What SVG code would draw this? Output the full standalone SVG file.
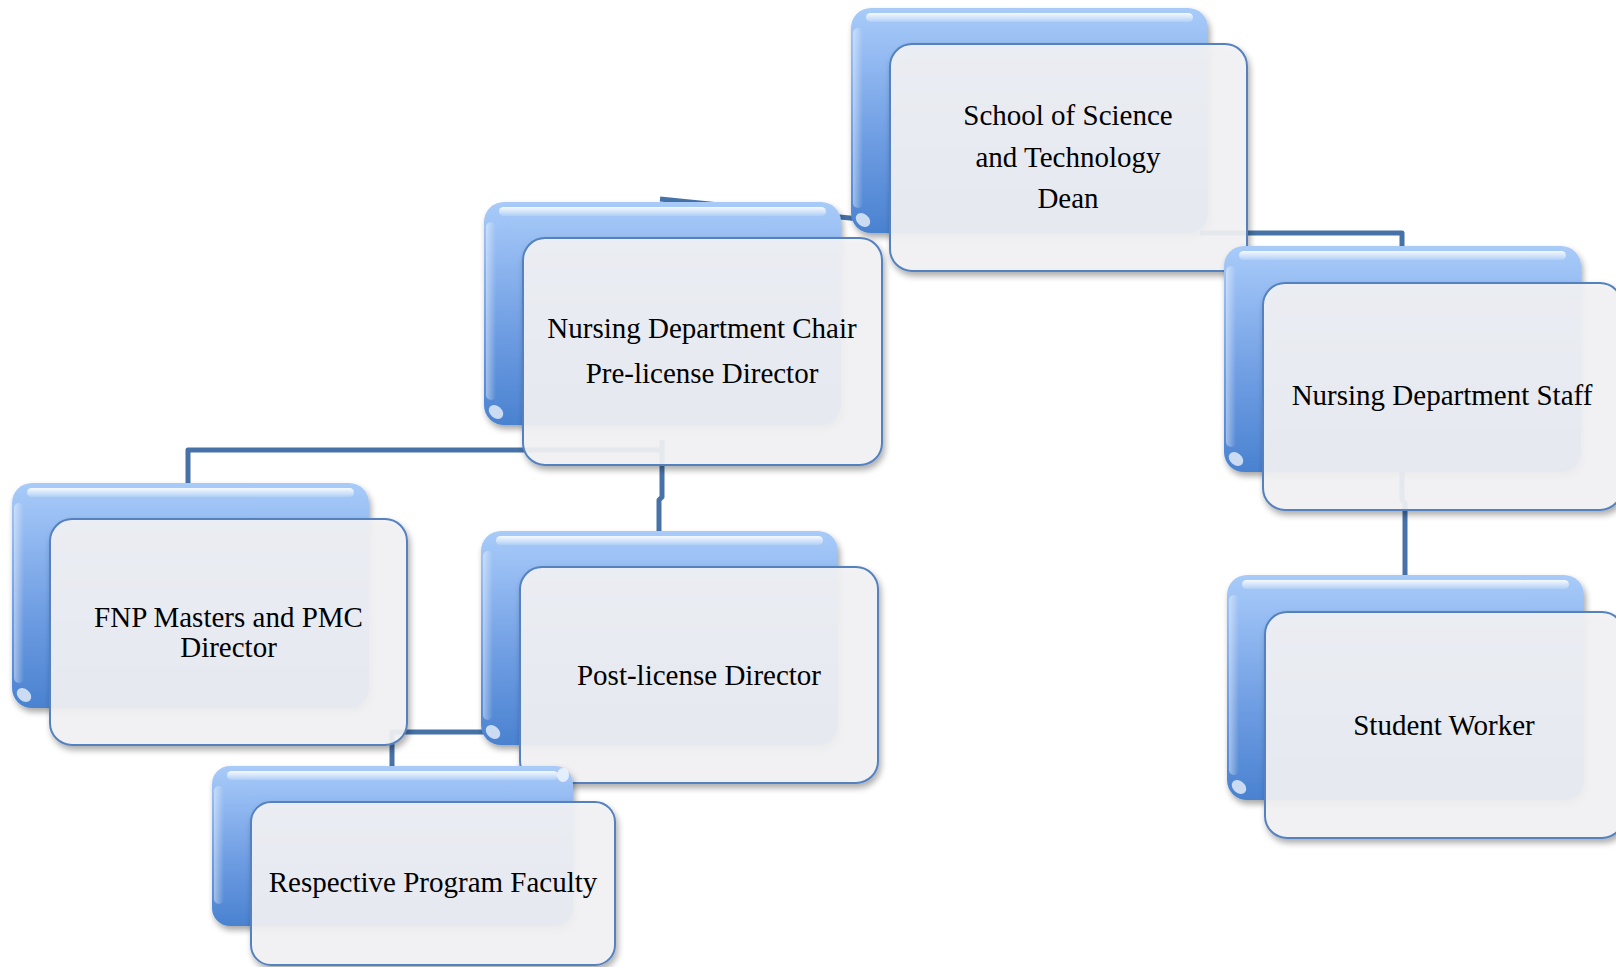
<svg xmlns="http://www.w3.org/2000/svg" width="1616" height="967" viewBox="0 0 1616 967">
<defs>
<linearGradient id="bg" x1="0" y1="0" x2="0" y2="1">
<stop offset="0" stop-color="#a8cbf8"/>
<stop offset="0.18" stop-color="#97bdf3"/>
<stop offset="0.6" stop-color="#6d9ce2"/>
<stop offset="1" stop-color="#4a82d0"/>
</linearGradient>
<linearGradient id="lg" x1="0" y1="0" x2="1" y2="0">
<stop offset="0" stop-color="#ffffff" stop-opacity="0.45"/>
<stop offset="1" stop-color="#ffffff" stop-opacity="0"/>
</linearGradient>
<linearGradient id="tg" x1="0" y1="0" x2="0" y2="1">
<stop offset="0" stop-color="#ffffff" stop-opacity="0.9"/>
<stop offset="1" stop-color="#ffffff" stop-opacity="0.15"/>
</linearGradient>
<filter id="sh" x="-10%" y="-10%" width="125%" height="130%">
<feDropShadow dx="2" dy="4" stdDeviation="3" flood-color="#000" flood-opacity="0.35"/>
</filter>
</defs>
<style>
.back{fill:url(#bg);filter:url(#sh)}
.tophl{fill:url(#tg)}
.lefthl{fill:url(#lg)}
.spot{fill:#ffffff;opacity:0.7}
.front{fill:#f3f3f5;fill-opacity:0.91;stroke:#5582bf;stroke-width:2;filter:url(#sh)}
.conn{fill:none;stroke:#4672a8;stroke-width:5;stroke-linejoin:round}
text{font-family:"Liberation Serif","Times New Roman",serif;font-size:29px;fill:#000;text-anchor:middle}
</style>
<rect width="1616" height="967" fill="#ffffff"/>
<g id="connectors">
<path class="conn" d="M660,199 L900,223"/>
<path class="conn" d="M1200,233 H1402 V252"/>
<path class="conn" d="M660,450 H188 V488"/>
<path class="conn" d="M662,440 V497 L659,500 V535"/>
<path class="conn" d="M660,732 H392 V770"/>
<path class="conn" d="M1402,470 V500 L1405,503 V580"/>
</g>
<g id="dean">
<rect class="back" x="851" y="8" width="357" height="225" rx="20"/>
<rect class="tophl" x="866" y="13" width="327" height="9" rx="4.5"/>
<rect class="lefthl" x="853" y="28" width="10" height="180" rx="5"/>
<ellipse class="spot" cx="863" cy="220" rx="8" ry="6" transform="rotate(40 863 220)"/>
<rect class="front" x="890" y="44" width="357" height="227" rx="22"/>
<text x="1068" y="125">School of Science</text>
<text x="1068" y="166.5">and Technology</text>
<text x="1068" y="208">Dean</text>
</g>
<g id="chair">
<rect class="back" x="484" y="202" width="357" height="223" rx="20"/>
<rect class="tophl" x="499" y="207" width="327" height="9" rx="4.5"/>
<rect class="lefthl" x="486" y="222" width="10" height="178" rx="5"/>
<ellipse class="spot" cx="496" cy="412" rx="8" ry="6" transform="rotate(40 496 412)"/>
<rect class="front" x="523" y="238" width="359" height="227" rx="22"/>
<text x="702" y="338">Nursing Department Chair</text>
<text x="702" y="383">Pre-license Director</text>
</g>
<g id="staff">
<rect class="back" x="1224" y="246" width="357" height="226" rx="20"/>
<rect class="tophl" x="1239" y="251" width="327" height="9" rx="4.5"/>
<rect class="lefthl" x="1226" y="266" width="10" height="181" rx="5"/>
<ellipse class="spot" cx="1236" cy="459" rx="8" ry="6" transform="rotate(40 1236 459)"/>
<rect class="front" x="1263" y="283" width="359" height="227" rx="22"/>
<text x="1442" y="405">Nursing Department Staff</text>
</g>
<g id="student">
<rect class="back" x="1227" y="575" width="357" height="225" rx="20"/>
<rect class="tophl" x="1242" y="580" width="327" height="9" rx="4.5"/>
<rect class="lefthl" x="1229" y="595" width="10" height="180" rx="5"/>
<ellipse class="spot" cx="1239" cy="787" rx="8" ry="6" transform="rotate(40 1239 787)"/>
<rect class="front" x="1265" y="612" width="359" height="226" rx="22"/>
<text x="1444" y="735">Student Worker</text>
</g>
<g id="fnp">
<rect class="back" x="12" y="483" width="357" height="225" rx="20"/>
<rect class="tophl" x="27" y="488" width="327" height="9" rx="4.5"/>
<rect class="lefthl" x="14" y="503" width="10" height="180" rx="5"/>
<ellipse class="spot" cx="24" cy="695" rx="8" ry="6" transform="rotate(40 24 695)"/>
<rect class="front" x="50" y="519" width="357" height="226" rx="22"/>
<text x="228.5" y="627">FNP Masters and PMC</text>
<text x="228.5" y="657">Director</text>
</g>
<g id="postlicense">
<rect class="back" x="481" y="531" width="357" height="214" rx="20"/>
<rect class="tophl" x="496" y="536" width="327" height="9" rx="4.5"/>
<rect class="lefthl" x="483" y="551" width="10" height="169" rx="5"/>
<ellipse class="spot" cx="493" cy="732" rx="8" ry="6" transform="rotate(40 493 732)"/>
<rect class="front" x="520" y="567" width="358" height="216" rx="22"/>
<text x="699" y="685">Post-license Director</text>
</g>
<g id="faculty">
<rect class="back" x="212" y="766" width="361" height="160" rx="18"/>
<rect class="tophl" x="227" y="771" width="331" height="9" rx="4.5"/>
<rect class="lefthl" x="214" y="786" width="10" height="118" rx="5"/>
<ellipse class="spot" cx="563" cy="775" rx="6" ry="7"/>
<rect class="front" x="251" y="802" width="364" height="163" rx="20"/>
<text x="433" y="892">Respective Program Faculty</text>
</g>
</svg>
